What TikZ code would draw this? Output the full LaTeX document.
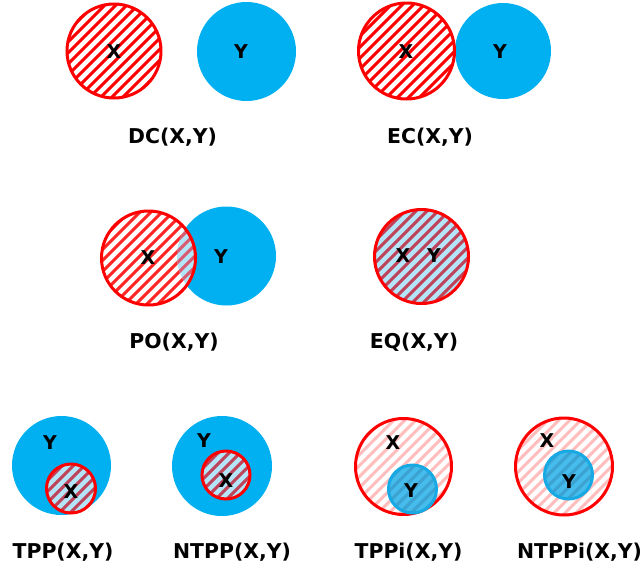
\documentclass[tikz,border=0pt]{standalone}
\usepackage{fontspec}
\setmainfont{DejaVu Sans}

\definecolor{regred}{HTML}{FF0000}
\definecolor{regblue}{HTML}{00B0F0}
\definecolor{paleblue}{HTML}{B3E4F8}
\definecolor{stripemaroon}{HTML}{BE4258}
\definecolor{stripesoft}{HTML}{D85A70}
\definecolor{stripepink}{HTML}{FFBDBD}
\definecolor{innerblue}{HTML}{45BCEC}
\definecolor{innerstripe}{HTML}{3CA2D2}
\definecolor{inneredge}{HTML}{16A9E4}

\tikzset{
  region/.style={font=\bfseries\fontsize{19}{19}\selectfont, inner sep=0pt},
  caption/.style={font=\bfseries\fontsize{20.4}{22}\selectfont, inner sep=0pt},
  xedge/.style={draw=regred, line width=3pt},
  yedge/.style={draw=inneredge, line width=3pt},
}

% diagonal hatching (lower left to upper right), clipped by the current path
\newcommand\hatchlines[2]{%
  \foreach \c in {0,11,...,1221}
    \draw[#1, line width=#2] (\c,0) -- (\c-600,600);}

\begin{document}
\begin{tikzpicture}[x=1pt,y=-1pt]
\useasboundingbox (0,0) rectangle (643,574);

% ---------- DC ----------
\coordinate (dcX) at (114,51);
\coordinate (dcY) at (246.5,51.5);
\fill[regblue] (dcY) circle[radius=49.5pt];
\fill[white] (dcX) circle[radius=47pt];
\begin{scope}
  \clip (dcX) circle[radius=47pt];
  \hatchlines{regred}{3pt}
\end{scope}
\draw[xedge] (dcX) circle[radius=47pt];
\node[region] (dcXl) at (114,52) {X};
\node[region] (dcYl) at (241,52) {Y};
\node[caption] (dcC) at (172.5,137) {DC(X,Y)};

% ---------- EC ----------
\coordinate (ecX) at (406.5,51);
\coordinate (ecY) at (503,51);
\fill[regblue] (ecY) circle[radius=48pt];
\fill[white] (ecX) circle[radius=48pt];
\begin{scope}
  \clip (ecX) circle[radius=48pt];
  \hatchlines{regred}{3pt}
\end{scope}
\draw[xedge] (ecX) circle[radius=48pt];
\node[region] (ecXl) at (406,52) {X};
\node[region] (ecYl) at (500,52) {Y};
\node[caption] (ecC) at (430,137) {EC(X,Y)};

% ---------- PO ----------
\coordinate (poX) at (148.5,258);
\coordinate (poY) at (226.5,256);
\fill[regblue] (poY) circle[radius=49.5pt];
\fill[white] (poX) circle[radius=47pt];
\begin{scope}
  \clip (poX) circle[radius=47pt];
  \hatchlines{regred!85!white}{3pt}
\end{scope}
\begin{scope}
  \clip (poX) circle[radius=47pt];
  \clip (poY) circle[radius=49.5pt];
  \fill[paleblue] (poY) circle[radius=49.5pt];
  \hatchlines{stripesoft}{3pt}
\end{scope}
\draw[xedge] (poX) circle[radius=47pt];
\node[region] (poXl) at (148,258) {X};
\node[region] (poYl) at (221,257) {Y};
\node[caption] (poC) at (174,342) {PO(X,Y)};

% ---------- EQ ----------
\coordinate (eqXY) at (421.5,256.5);
\fill[paleblue] (eqXY) circle[radius=47pt];
\begin{scope}
  \clip (eqXY) circle[radius=47pt];
  \hatchlines{stripemaroon}{3pt}
\end{scope}
\draw[xedge] (eqXY) circle[radius=47pt];
\node[region] (eqXl) at (403,256) {X};
\node[region] (eqYl) at (434,256) {Y};
\node[caption] (eqC) at (414,342) {EQ(X,Y)};

% ---------- TPP ----------
\coordinate (tppY) at (61.5,465.5);
\coordinate (tppX) at (71,488.5);
\fill[regblue] (tppY) circle[radius=49.5pt];
\fill[paleblue] (tppX) circle[radius=24.5pt];
\begin{scope}
  \clip (tppX) circle[radius=24.5pt];
  \hatchlines{stripemaroon}{3pt}
\end{scope}
\draw[xedge] (tppX) circle[radius=24.5pt];
\node[region] (tppYl) at (50,443) {Y};
\node[region] (tppXl) at (71,492) {X};
\node[caption] (tppC) at (63,552) {TPP(X,Y)};

% ---------- NTPP ----------
\coordinate (ntppY) at (222,466);
\coordinate (ntppX) at (226,475);
\fill[regblue] (ntppY) circle[radius=50pt];
\fill[paleblue] (ntppX) circle[radius=24pt];
\begin{scope}
  \clip (ntppX) circle[radius=24pt];
  \hatchlines{stripemaroon}{3pt}
\end{scope}
\draw[xedge] (ntppX) circle[radius=24pt];
\node[region] (ntppYl) at (204,441) {Y};
\node[region] (ntppXl) at (226,481) {X};
\node[caption] (ntppC) at (232,552) {NTPP(X,Y)};

% ---------- TPPi ----------
\coordinate (tppiX) at (403.5,466.5);
\coordinate (tppiY) at (412.5,489);
\fill[white] (tppiX) circle[radius=48pt];
\begin{scope}
  \clip (tppiX) circle[radius=48pt];
  \hatchlines{stripepink}{3pt}
\end{scope}
\draw[xedge] (tppiX) circle[radius=48pt];
\fill[innerblue] (tppiY) circle[radius=24pt];
\begin{scope}
  \clip (tppiY) circle[radius=24pt];
  \hatchlines{innerstripe}{3pt}
\end{scope}
\draw[yedge] (tppiY) circle[radius=24pt];
\node[region] (tppiXl) at (393,443) {X};
\node[region] (tppiYl) at (411,491) {Y};
\node[caption] (tppiC) at (408.5,552) {TPPi(X,Y)};

% ---------- NTPPi ----------
\coordinate (ntppiX) at (564,466.5);
\coordinate (ntppiY) at (568.5,475);
\fill[white] (ntppiX) circle[radius=48.5pt];
\begin{scope}
  \clip (ntppiX) circle[radius=48.5pt];
  \hatchlines{stripepink}{3pt}
\end{scope}
\draw[xedge] (ntppiX) circle[radius=48.5pt];
\fill[innerblue] (ntppiY) circle[radius=24pt];
\begin{scope}
  \clip (ntppiY) circle[radius=24pt];
  \hatchlines{innerstripe}{3pt}
\end{scope}
\draw[yedge] (ntppiY) circle[radius=24pt];
\node[region] (ntppiXl) at (547,441) {X};
\node[region] (ntppiYl) at (569,482) {Y};
\node[caption] (ntppiC) at (579.5,552) {NTPPi(X,Y)};

\end{tikzpicture}
\end{document}
